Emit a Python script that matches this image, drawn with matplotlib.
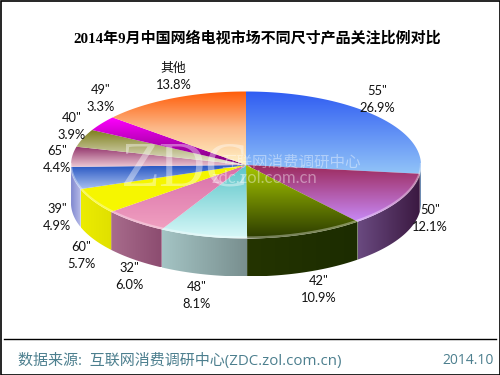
#!/usr/bin/env python3
"""
3D style pie of TV size attention share, drawn with gradient filled polygons
"""
import matplotlib
matplotlib.use('Agg')
import matplotlib.pyplot as plt
import numpy as np
from matplotlib.colors import LinearSegmentedColormap
from matplotlib.patches import Polygon, Rectangle

LABEL_FONT = ['Lato', 'Noto Sans CJK SC']
FOOT_FONT = ['Open Sans', 'Noto Sans CJK SC']
TITLE_FONT = ['Liberation Serif', 'Noto Sans CJK SC']
FOOT_COLOR = '#4c7f8e'

# clockwise from 12 o'clock
sizes = ['55"', '50"', '42"', '48"', '32"', '60"', '39"', '65"', '40"', '49"', '其他']
shares = [26.9, 12.1, 10.9, 8.1, 6.0, 5.7, 4.9, 4.4, 3.9, 3.3, 13.8]

# top surface gradient, top to bottom
top_colors = [
    ['#2f5cf2', '#92c4f8'], ['#9c2a5c', '#c88af8'], ['#a8c800', '#2c3c00'],
    ['#58c4c8', '#d8f8f8'], ['#d86ca8', '#f0a0c0'], ['#f4f400', '#f8f800'],
    ['#2050c0', '#a8c0f0'], ['#903068', '#ecc8d4'], ['#7c7c18', '#ecebdc'],
    ['#ff00ff', '#780078'], ['#ff5c08', '#fcb888', '#fff4c8'],
]
# side wall gradient, left to right
side_colors = [
    ['#80a0c8', '#405878'], ['#6a4a80', '#3a1840'], ['#243400', '#1c2c00'],
    ['#a4c4c4', '#788e8e'], ['#a86c8c', '#8c4c70'], ['#ecec00', '#e0e000'],
    ['#8088d0', '#b8bce8'], ['#6070c0', '#8090d0'], ['#808080', '#808080'],
    ['#808080', '#808080'], ['#808080', '#808080'],
]
# label offset from the rim point at the middle of each slice
label_offsets = [(0, -17), (30, 18), (13, 55), (-6, 59), (-5, 55), (-12, 54),
                 (-17, 39), (-15, 3), (-11, -12), (-1, -25), (1, -22)]

CX, CY = 246, 165
RX, RY = 175, 73.5
DEPTH = 38


def rim(t_deg, dy=0):
    t = np.radians(t_deg)
    return CX + RX * np.cos(t), CY - RY * np.sin(t) + dy


def gradient_fill(ax, verts, colors, horizontal=False, zorder=2):
    """Fill a polygon with a colour gradient across its bounding box"""
    verts = np.asarray(verts)
    x0, y0 = verts.min(axis=0)
    x1, y1 = verts.max(axis=0)
    cmap = LinearSegmentedColormap.from_list('g', colors)
    grad = np.linspace(0, 1, 256)
    grad = grad.reshape(1, -1) if horizontal else grad.reshape(-1, 1)
    im = ax.imshow(grad, cmap=cmap, extent=(x0, x1, y1, y0), aspect='auto',
                   interpolation='bilinear', zorder=zorder)
    clip = Polygon(verts, closed=True, transform=ax.transData, fc='none', ec='none')
    ax.add_patch(clip)
    im.set_clip_path(clip)


def draw_pie(ax):
    spans = np.array(shares) / sum(shares) * 360
    ends = 90 - np.cumsum(spans)
    starts = ends + spans

    # side walls, only the front half of the rim shows
    for i in range(len(shares)):
        lo, hi = ends[i] % 360, starts[i] % 360
        if hi <= lo:
            hi += 360
        a = max(lo, 180)
        b = min(hi, 360)
        if b <= a:
            continue
        ts = np.linspace(a, b, 60)
        upper = [rim(t) for t in ts]
        lower = [rim(t, DEPTH) for t in ts[::-1]]
        gradient_fill(ax, upper + lower, side_colors[i], horizontal=True, zorder=2)

    # top surface
    for i in range(len(shares)):
        ts = np.linspace(starts[i], ends[i], 80)
        verts = [(CX, CY)] + [rim(t) for t in ts]
        gradient_fill(ax, verts, top_colors[i], zorder=3)

    # light bevel along the front edge
    ts = np.linspace(180, 360, 200)
    xs, ys = zip(*[rim(t, -1) for t in ts])
    ax.plot(xs, ys, color='white', alpha=0.35, lw=1.6, zorder=4)

    # labels
    mids = (starts + ends) / 2
    for i in range(len(shares)):
        x, y = rim(mids[i])
        dx, dy = label_offsets[i]
        ax.text(x + dx, y + dy, f"{sizes[i]}\n{shares[i]:.1f}%", ha='center', va='center',
                fontsize=9.3, family=LABEL_FONT, color='#111111', linespacing=1.5, zorder=6)


def main():
    fig = plt.figure(figsize=(5, 3.75), dpi=100)
    ax = fig.add_axes([0, 0, 1, 1])

    draw_pie(ax)

    # watermark
    ax.text(185, 171, 'ZDC', ha='center', va='center', fontsize=46, family='Liberation Serif',
            color='white', alpha=0.4, zorder=5)
    ax.text(291, 162, '互联网消费调研中心', ha='center', va='center', fontsize=11.2,
            family='Noto Sans CJK SC', color='white', alpha=0.4, zorder=5)
    ax.text(264, 178, 'zdc.zol.com.cn', ha='center', va='center', fontsize=12,
            family='Lato', color='white', alpha=0.4, zorder=5)

    ax.text(257, 38, '2014年9月中国网络电视市场不同尺寸产品关注比例对比', ha='center', va='center',
            fontsize=10.8, fontweight='bold', family=TITLE_FONT, color='black')

    # footer
    ax.plot([4, 496], [338.5, 338.5], color='black', lw=1)
    ax.text(18, 361, '数据来源:  互联网消费调研中心(ZDC.zol.com.cn)', ha='left', va='center',
            fontsize=10.8, family=FOOT_FONT, color=FOOT_COLOR)
    ax.text(494, 360, '2014.10', ha='right', va='center', fontsize=10,
            family=FOOT_FONT, color=FOOT_COLOR)

    ax.add_patch(Rectangle((0.5, 0.5), 499, 374, fc='none', ec='black', lw=1.2, zorder=7))

    ax.set_xlim(0, 500)
    ax.set_ylim(375, 0)
    ax.axis('off')
    fig.savefig('out.png', dpi=100)
    plt.close(fig)


if __name__ == "__main__":
    main()
